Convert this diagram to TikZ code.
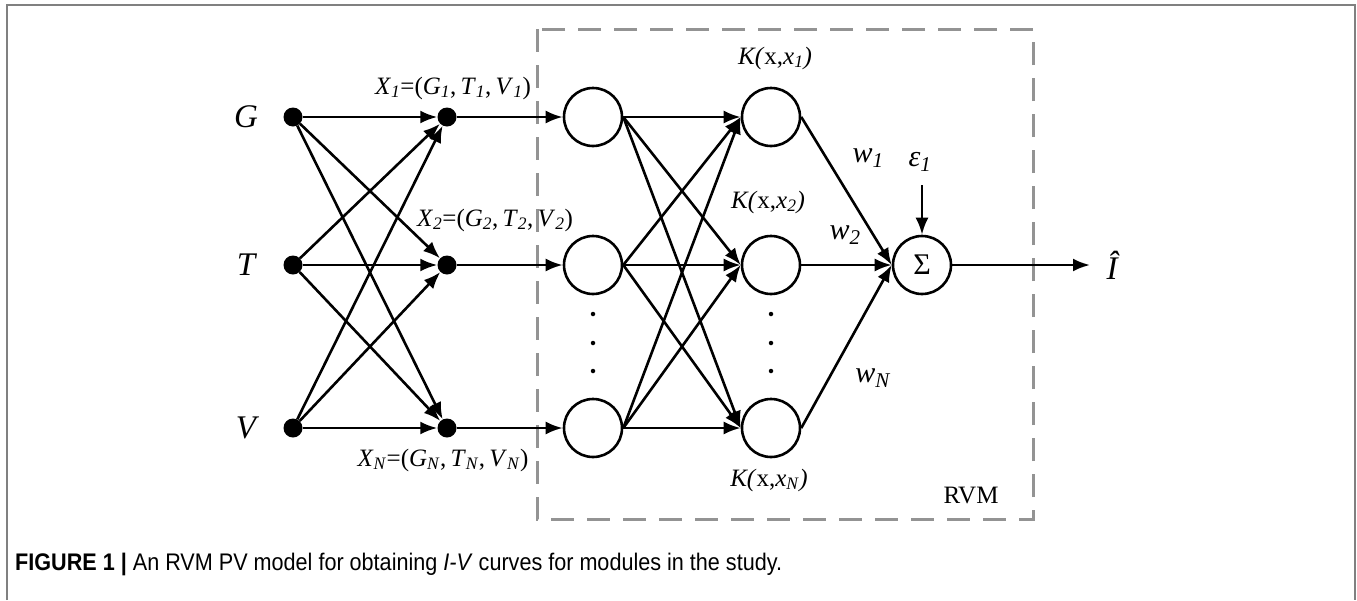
\documentclass[tikz,border=0pt]{standalone}
\usepackage{fontspec}
\setmainfont{Liberation Serif}
\newfontfamily\capfont{Liberation Sans}[FakeStretch=0.9]
\usetikzlibrary{arrows.meta}
\begin{document}
\begin{tikzpicture}[x=1pt,y=-1pt,
  dotnode/.style={circle,fill=black,inner sep=0pt,minimum size=19pt},
  neuron/.style={circle,draw,line width=2.6pt,minimum size=58pt,inner sep=0pt},
  arr/.style={line width=2.6pt,-{Latex[length=17pt,width=13pt]}},
  big/.style={font=\fontsize{33}{36}\selectfont\itshape,inner sep=0pt},
  lbl/.style={font=\fontsize{25}{30}\selectfont,inner sep=0pt},
  wlbl/.style={font=\fontsize{30}{34}\selectfont,inner sep=0pt},
  smalldot/.style={circle,fill=black,inner sep=0pt,minimum size=4.5pt},
  frame/.style={draw=gray,line width=1.5pt},
  rvmbox/.style={draw=gray!85,line width=3pt,dash pattern=on 23pt off 13pt}]
\useasboundingbox (0,0) rectangle (1357,600);
\fill[white] (0,0) rectangle (1357,600);
\draw[frame] (7,600) -- (7,5) -- (1355,5) -- (1355,600);
% dashed RVM box
\draw[rvmbox] (537,29) rectangle (1033,519);
% input nodes
\node[dotnode] (g) at (293,117) {};
\node[dotnode] (t) at (293,265) {};
\node[dotnode] (v) at (293,428) {};
\node[big,anchor=center] (gl) at (246,117) {G};
\node[big,anchor=center] (tl) at (246,265) {T};
\node[big,anchor=center] (vl) at (246,428) {V};
% middle dots
\node[dotnode] (m1) at (447,117) {};
\node[dotnode] (m2) at (447,265) {};
\node[dotnode] (m3) at (447,428) {};
% hidden neurons
\node[neuron] (h1) at (593,117) {};
\node[neuron] (h2) at (593,265) {};
\node[neuron] (h3) at (593,428) {};
% kernel neurons
\node[neuron] (k1) at (771,117) {};
\node[neuron] (k2) at (771,265) {};
\node[neuron] (k3) at (771,428) {};
% sum
\node[neuron,font=\fontsize{30}{34}\selectfont] (s) at (922,265) {Σ};
% connections input -> middle
\foreach \a in {g,t,v}{
  \foreach \b in {m1,m2,m3}{
    \draw[arr] (\a) -- (\b);
  }
}
\draw[arr] (m1) -- (h1);
\draw[arr] (m2) -- (h2);
\draw[arr] (m3) -- (h3);
\foreach \a in {h1,h2,h3}{
  \foreach \b in {k1,k2,k3}{
    \draw[arr] (\a.east) -- (\b.west);
  }
}
\foreach \a in {k1,k2,k3}{
  \draw[arr] (\a.east) -- (s.west);
}
\coordinate (epstop) at (922,185);
\coordinate (outend) at (1090,265);
\draw[arr] (epstop) -- (s.north);
\draw[arr] (s.east) -- (outend);
% ellipsis dots
\foreach \y [count=\i] in {314,343,371}{
  \node[smalldot] (da\i) at (593,\y) {};
  \node[smalldot] (db\i) at (771,\y) {};
}
% labels
\node[lbl] (x1) at (453,88) {\textit{X}\textsubscript{\textit{1}}=(\textit{G}\textsubscript{\textit{1}},\,\textit{T}\textsubscript{\textit{1}},\,\textit{V}\textsubscript{\textit{1}})};
\node[lbl] (x2) at (495,220) {\textit{X}\textsubscript{\textit{2}}=(\textit{G}\textsubscript{\textit{2}},\,\textit{T}\textsubscript{\textit{2}},\,\textit{V}\textsubscript{\textit{2}})};
\node[lbl] (xn) at (443,460) {\textit{X}\textsubscript{\textit{N}}=(\textit{G}\textsubscript{\textit{N}},\,\textit{T}\textsubscript{\textit{N}},\,\textit{V}\textsubscript{\textit{N}})};
\node[lbl] (kl1) at (775,58) {\textit{K(}x,\textit{x}\textsubscript{\textit{1}}\textit{)}};
\node[lbl] (kl2) at (768,202) {\textit{K(}x,\textit{x}\textsubscript{\textit{2}}\textit{)}};
\node[lbl] (kl3) at (769,480) {\textit{K(}x,\textit{x}\textsubscript{\textit{N}}\textit{)}};
\node[wlbl] (w1) at (868,158) {\textit{w}\textsubscript{\textit{1}}};
\node[wlbl] (w2) at (845,235) {\textit{w}\textsubscript{\textit{2}}};
\node[wlbl] (wn) at (873,378) {\textit{w}\textsubscript{\textit{N}}};
\node[wlbl] (eps) at (920,162) {\textit{ε}\textsubscript{\textit{1}}};
\node[big] (ihat) at (1112,265) {Î};
\node[lbl] (rvm) at (971,495) {RVM};
% caption
\node[anchor=base west,inner sep=0pt,font=\capfont\fontsize{24}{28}\selectfont] (cap) at (15,570)
  {\textbf{FIGURE 1 |} An RVM PV model for obtaining \textit{I-V} curves for modules in the study.};
\end{tikzpicture}
\end{document}
